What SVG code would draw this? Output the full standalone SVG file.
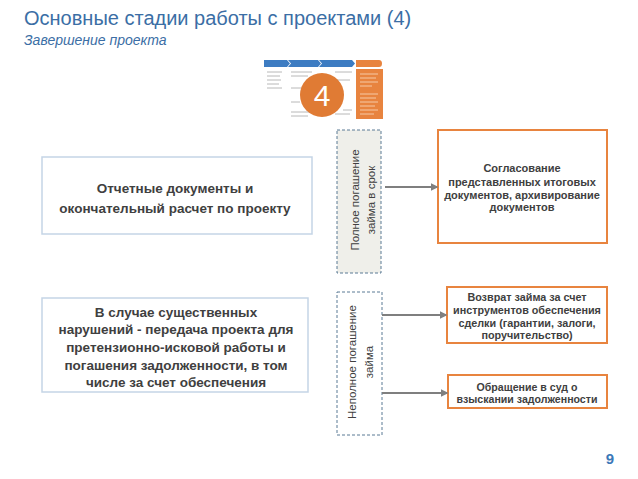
<svg xmlns="http://www.w3.org/2000/svg" width="638" height="479" viewBox="0 0 638 479">
<style>
.t{font-family:"Liberation Sans",Arial,sans-serif}
.gb{fill:#fff;stroke:#c5d5e6;stroke-width:1.5}
.ob{fill:#fff;stroke:#e8843f;stroke-width:2}
.db{stroke:#5b7a95;stroke-width:1;stroke-dasharray:3,2}
.bt{font-family:"Liberation Sans",Arial,sans-serif;font-weight:bold;fill:#404040;text-anchor:middle}
.vt{font-family:"Liberation Sans",Arial,sans-serif;fill:#404040;text-anchor:middle;font-size:11.5px}
.c{stroke:#7f7f7f;stroke-width:2;fill:none;marker-end:url(#ah)}
.tl{stroke:#b8b8b8;stroke-width:1}
</style>
<defs>
<marker id="ah" viewBox="0 0 10 10" refX="8" refY="5" markerWidth="4" markerHeight="4" orient="auto"><path d="M0,0 L10,5 L0,10 z" fill="#7f7f7f"/></marker>
</defs>
<rect width="638" height="479" fill="#fff"/>
<text class="t" x="24" y="25" font-size="20" fill="#3b6ea5">Основные стадии работы с проектами (4)</text>
<text class="t" x="24" y="45" font-size="14" font-style="italic" fill="#3b6ea5">Завершение проекта</text>

<g id="thumbnail">
<rect x="263" y="58" width="121" height="62" fill="#fff"/>
<path d="M264,60 H287 L290,63.5 L287,67 H264 Z" fill="#3d7cc2"/>
<path d="M288,60 H318 L321,63.5 L318,67 H288 L291,63.5 Z" fill="#3d7cc2"/>
<path d="M319,60 H352 L355,63.5 L352,67 H319 L322,63.5 Z" fill="#3d7cc2"/>
<path d="M356,60 H379 Q382,60 382,63.5 Q382,67 379,67 H356 Z" fill="#e8843f"/>
<rect x="356" y="69" width="27" height="50" fill="#e8843f"/>
<g class="tl">
<line x1="267" y1="72" x2="282" y2="72"/><line x1="267" y1="76" x2="280" y2="76"/><line x1="267" y1="80" x2="281" y2="80"/><line x1="267" y1="84" x2="279" y2="84"/><line x1="267" y1="88" x2="282" y2="88"/>
<line x1="291" y1="72" x2="312" y2="72"/><line x1="291" y1="76" x2="308" y2="76"/><line x1="291" y1="88" x2="306" y2="88"/><line x1="291" y1="102" x2="300" y2="102"/><line x1="291" y1="112" x2="312" y2="112"/><line x1="291" y1="116" x2="308" y2="116"/>
<line x1="335" y1="72" x2="352" y2="72"/><line x1="335" y1="80" x2="350" y2="80"/><line x1="343" y1="110" x2="352" y2="110"/><line x1="335" y1="114" x2="350" y2="114"/>
</g>
<g stroke="#f6c9a6" stroke-width="1">
<line x1="360" y1="74" x2="378" y2="74"/><line x1="360" y1="78" x2="376" y2="78"/><line x1="360" y1="82" x2="378" y2="82"/><line x1="360" y1="86" x2="372" y2="86"/>
<line x1="360" y1="94" x2="378" y2="94"/><line x1="360" y1="98" x2="376" y2="98"/><line x1="360" y1="102" x2="378" y2="102"/><line x1="360" y1="106" x2="375" y2="106"/><line x1="360" y1="110" x2="378" y2="110"/><line x1="360" y1="114" x2="374" y2="114"/>
</g>
<circle cx="322" cy="95" r="22" fill="#e07b34"/>
<text class="t" x="322" y="106" font-size="30" fill="#fff" text-anchor="middle">4</text>
</g>

<g id="box-reports">
<rect class="gb" x="42" y="157" width="270" height="77"/>
<text class="bt" font-size="13.5"><tspan x="175" y="193">Отчетные документы  и</tspan><tspan x="175" y="213">окончательный расчет по проекту</tspan></text>
</g>

<g id="box-violations">
<rect class="gb" x="42" y="298" width="266" height="94"/>
<text class="bt" font-size="13.5"><tspan x="176" y="317">В случае  существенных</tspan><tspan x="176" y="334">нарушений - передача проекта  для</tspan><tspan x="176" y="352">претензионно-исковой работы и</tspan><tspan x="176" y="370">погашения задолженности, в том</tspan><tspan x="176" y="387">числе за счет обеспечения</tspan></text>
</g>

<g id="full-repayment">
<rect class="db" x="337" y="130" width="44" height="143" fill="#efefea"/>
<text class="vt" transform="translate(359,200) rotate(-90)"><tspan x="0" y="0">Полное погашение</tspan><tspan x="0" y="16">займа в срок</tspan></text>
</g>

<g id="partial-repayment">
<rect class="db" x="337" y="292" width="45" height="143" fill="#fff"/>
<text class="vt" transform="translate(356,362) rotate(-90)"><tspan x="0" y="0">Неполное погашение</tspan><tspan x="0" y="17">займа</tspan></text>
</g>

<g id="box-approval">
<rect class="ob" x="438" y="130" width="169" height="113"/>
<text class="bt" font-size="11"><tspan x="522" y="172">Согласование</tspan><tspan x="522" y="186">представленных итоговых</tspan><tspan x="522" y="199">документов, архивирование</tspan><tspan x="522" y="211">документов</tspan></text>
</g>

<g id="box-collateral">
<rect class="ob" x="447" y="287" width="160" height="56"/>
<text class="bt" font-size="10.8"><tspan x="527" y="301">Возврат займа за счет</tspan><tspan x="527" y="314">инструментов обеспечения</tspan><tspan x="527" y="327">сделки (гарантии, залоги,</tspan><tspan x="527" y="339">поручительство)</tspan></text>
</g>

<g id="box-court">
<rect class="ob" x="448" y="375" width="159" height="33"/>
<text class="bt" font-size="10.6"><tspan x="527" y="391">Обращение в суд о</tspan><tspan x="527" y="403">взыскании задолженности</tspan></text>
</g>

<g id="connectors">
<line class="c" x1="385" y1="187" x2="437" y2="187"/>
<line class="c" x1="382" y1="315" x2="446" y2="315"/>
<line class="c" x1="382" y1="393" x2="447" y2="393"/>
</g>

<text class="t" x="610" y="464" font-size="15" font-weight="bold" fill="#3b78b8" text-anchor="middle">9</text>
</svg>
